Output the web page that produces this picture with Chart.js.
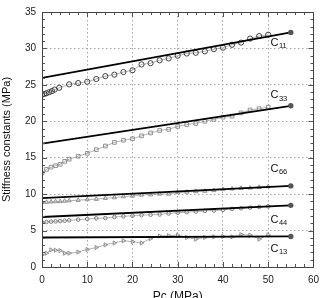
<!DOCTYPE html>
<html>
<head>
<meta charset="utf-8">
<script src="https://cdn.jsdelivr.net/npm/chart.js@4/dist/chart.umd.min.js"></script>
<style>
html,body{margin:0;padding:0;background:#fff;}
canvas{display:block;}
</style>
</head>
<body>
<canvas id="c" width="326" height="298"></canvas>
<script>
// ---- data ----
const pressC11 = [0,0.5,1,1.6,2.2,2.8,3.8,6,8,10,12,14,16,18,20,22,24,26,28,30,32,34,36,38,40,42,44,46,48,50];
const c11 = [23.65,23.75,23.85,24.0,24.15,24.35,24.6,25.07,25.25,25.43,25.8,26.2,26.4,26.76,27.0,27.8,27.97,28.37,28.63,29.0,29.3,29.4,29.6,29.9,30.1,30.5,30.8,31.35,31.7,31.88];
const press = [0,1,2,3,4,5,6,8,10,12,14,16,18,20,22,24,26,28,30,32,34,36,38,40,42,44,46,48,50];
const c33 = [12.9,13.4,13.7,13.9,14.1,14.5,14.8,15.2,15.6,16.1,16.6,17.1,17.4,17.6,18.0,18.4,18.74,18.9,19.3,19.55,19.7,20.0,20.26,20.57,20.7,21.15,21.55,21.73,21.95];
const c66 = [8.86,8.9,8.95,8.98,9.0,9.05,9.1,9.17,9.26,9.31,9.44,9.53,9.66,9.75,9.89,9.93,10.02,10.02,10.24,10.29,10.37,10.42,10.51,10.64,10.73,10.82,10.86,10.95,11.04];
const c44 = [6.14,6.18,6.22,6.26,6.3,6.35,6.41,6.5,6.59,6.68,6.72,6.86,6.95,7.04,7.12,7.17,7.21,7.35,7.45,7.52,7.61,7.7,7.75,7.84,7.97,8.06,8.15,8.24,8.33];
const c13 = [1.65,1.9,2.35,2.3,2.25,1.9,1.9,2.05,2.4,2.67,3.05,3.3,3.6,3.47,3.3,3.9,4.25,4.3,4.36,4.05,3.83,4.05,4.14,4.19,4.14,4.45,4.36,3.83,4.41];
// model lines: pressure end points and values
const modelPress = [0,55];
const modelC11 = [25.95,32.2];
const modelC33 = [16.92,22.13];
const modelC66 = [9.45,11.13];
const modelC44 = [6.86,8.46];
const modelC13 = [4.05,4.19];
// series labels: [main, subscript, x (MPa), y (MPa)]
const seriesLabels = [["C","11",50.5,30.8],["C","33",50.5,23.6],["C","66",50.5,13.5],["C","44",50.5,6.5],["C","13",50.5,2.5]];
const xTicks = [0,10,20,30,40,50,60];
const yTicks = [0,5,10,15,20,25,30,35];

const pts = (xs, ys) => xs.map((x,i)=>({x:x,y:ys[i]}));

function dataSet(label, xs, ys, style, color, radius, rot){
  return {label, data: pts(xs,ys), showLine:true, borderColor:'#a0a0a0', borderWidth:0.8,
    pointStyle:style, pointRadius:radius, pointRotation:rot||0, pointBorderColor:color,
    pointBackgroundColor:'rgba(255,255,255,0)', pointBorderWidth:0.9, order:2};
}
function modelSet(label, ys){
  return {label, data: pts(modelPress, ys), showLine:true, borderColor:'#000', borderWidth:1.8,
    pointRadius:[0,1.8], pointStyle:'circle', pointBackgroundColor:'#555', pointBorderColor:'#555', order:1};
}

const framePlugin = {
  id:'frame',
  afterDraw(chart){
    const {ctx, chartArea:a, scales:{x,y}} = chart;
    ctx.save();
    ctx.strokeStyle='#555'; ctx.lineWidth=1;
    ctx.beginPath();
    for(let v=0; v<=60; v+=2){
      const px = Math.round(x.getPixelForValue(v))+0.5;
      const len = (v%10===0)?5:3;
      ctx.moveTo(px,a.bottom); ctx.lineTo(px,a.bottom-len);
      ctx.moveTo(px,a.top); ctx.lineTo(px,a.top+len);
    }
    for(let v=0; v<=35; v+=1){
      const py = Math.round(y.getPixelForValue(v))+0.5;
      const len = (v%5===0)?5:3;
      ctx.moveTo(a.left,py); ctx.lineTo(a.left+len,py);
      ctx.moveTo(a.right,py); ctx.lineTo(a.right-len,py);
    }
    ctx.stroke();
    ctx.strokeStyle='#444';
    ctx.strokeRect(Math.round(a.left)+0.5, Math.round(a.top)+0.5, Math.round(a.right-a.left), Math.round(a.bottom-a.top));
    ctx.fillStyle='#111';
    ctx.textBaseline='middle'; ctx.textAlign='left';
    seriesLabels.forEach(([m,s,lx,ly])=>{
      const px = x.getPixelForValue(lx), py = y.getPixelForValue(ly);
      ctx.font='11px "Liberation Sans", Arial, sans-serif';
      ctx.fillText(m, px, py);
      const w = ctx.measureText(m).width;
      ctx.font='7.5px "Liberation Sans", Arial, sans-serif';
      ctx.fillText(s, px+w+0.5, py+3.5);
    });
    ctx.font='12px "Liberation Sans", Arial, sans-serif';
    ctx.textAlign='center'; ctx.textBaseline='alphabetic';
    ctx.fillStyle='#111';
    ctx.fillText('Pc (MPa)', (a.left+a.right)/2, 300);
    ctx.translate(10, (a.top+a.bottom)/2);
    ctx.rotate(-Math.PI/2);
    ctx.font='11px "Liberation Sans", Arial, sans-serif';
    ctx.fillText('Stiffness constants (MPa)', 0, 0);
    ctx.restore();
  }
};

const gridColor = (ctx)=> (ctx.index===0 || ctx.index===ctx.scale.ticks.length-1) ? 'rgba(0,0,0,0)' : '#a8a8a8';

new Chart(document.getElementById('c'), {
  type:'scatter',
  data:{datasets:[
    modelSet('C11 model', modelC11),
    modelSet('C33 model', modelC33),
    modelSet('C66 model', modelC66),
    modelSet('C44 model', modelC44),
    modelSet('C13 model', modelC13),
    dataSet('C11', pressC11, c11, 'circle', '#333', 2.6),
    dataSet('C33', press, c33, 'rect', '#888', 2.6),
    dataSet('C66', press, c66, 'triangle', '#888', 2.4),
    dataSet('C44', press, c44, 'circle', '#777', 1.8),
    dataSet('C13', press, c13, 'triangle', '#888', 2.4, 90)
  ]},
  options:{
    responsive:false, animation:false, devicePixelRatio:1,
    layout:{padding:{left:0,right:8,top:5,bottom:0}},
    plugins:{legend:{display:false}, tooltip:{enabled:false}},
    scales:{
      x:{type:'linear', min:0, max:60,
        afterBuildTicks(s){ s.ticks = xTicks.map(v=>({value:v})); },
        afterFit(s){ s.height = 31; },
        ticks:{padding:7, color:'#222', font:{size:10, family:'"Liberation Sans", Arial, sans-serif'}, maxRotation:0},
        grid:{color:gridColor, lineWidth:1, drawTicks:false},
        border:{display:false, dash:[1.5,2.5]}
      },
      y:{type:'linear', min:0, max:35,
        afterBuildTicks(s){ s.ticks = yTicks.map(v=>({value:v})); },
        afterFit(s){ s.width = 42; },
        ticks:{padding:6, color:'#222', font:{size:10, family:'"Liberation Sans", Arial, sans-serif'}},
        grid:{color:gridColor, lineWidth:1, drawTicks:false},
        border:{display:false, dash:[1.5,2.5]}
      }
    }
  },
  plugins:[framePlugin]
});
</script>
</body>
</html>
